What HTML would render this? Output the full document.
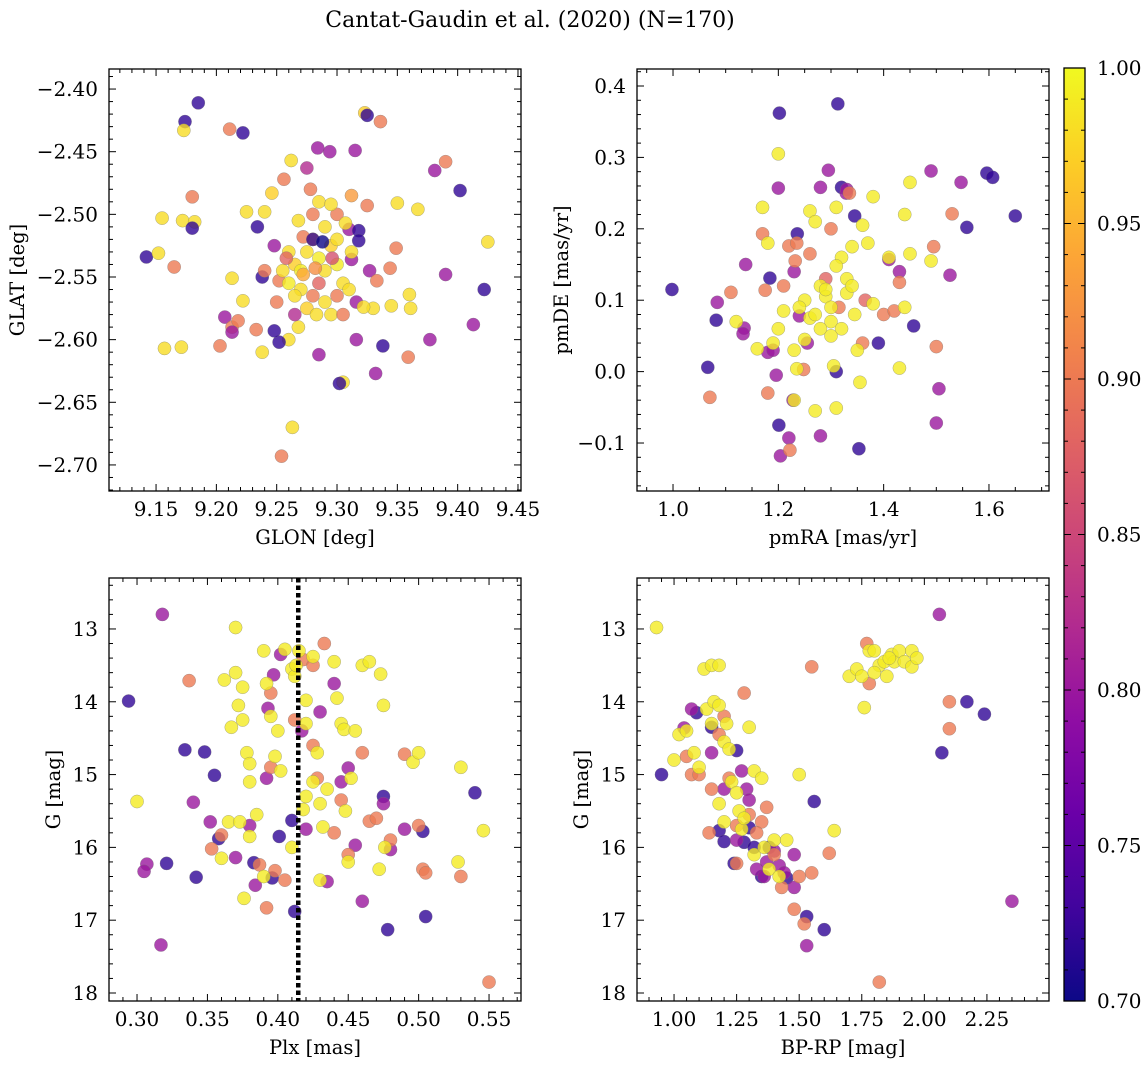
<!DOCTYPE html>
<html><head><meta charset="utf-8">
<style>
body{margin:0;background:#fff;}
svg{display:block;font-family:"DejaVu Serif","Liberation Serif",serif;}
</style></head>
<body>
<svg id="fig" width="1148" height="1068" viewBox="0 0 1148 1068">
<defs>
<linearGradient id="plasma" x1="0" y1="1" x2="0" y2="0">
<stop offset="0" stop-color="#0d0887"/><stop offset="0.1" stop-color="#41049d"/><stop offset="0.2" stop-color="#6a00a8"/><stop offset="0.3" stop-color="#8f0da4"/><stop offset="0.4" stop-color="#b12a90"/><stop offset="0.5" stop-color="#cc4778"/><stop offset="0.6" stop-color="#e16462"/><stop offset="0.7" stop-color="#f2844b"/><stop offset="0.8" stop-color="#fca636"/><stop offset="0.9" stop-color="#fcce25"/><stop offset="1" stop-color="#f0f921"/>
</linearGradient>
</defs>
<text x="530" y="27" font-size="22" text-anchor="middle">Cantat-Gaudin et al. (2020) (N=170)</text>
</svg>
<script>
// ---- data ----
const glonGlat = [[9.185,-2.411,0.72],[9.174,-2.426,0.72],[9.222,-2.435,0.72],[9.173,-2.433,0.98],[9.211,-2.432,0.9],[9.323,-2.419,0.97],[9.325,-2.421,0.72],[9.336,-2.426,0.9],[9.18,-2.486,0.9],[9.155,-2.503,0.98],[9.172,-2.505,0.98],[9.182,-2.506,0.98],[9.18,-2.511,0.72],[9.142,-2.534,0.72],[9.152,-2.531,0.98],[9.165,-2.542,0.9],[9.157,-2.607,0.98],[9.171,-2.606,0.98],[9.203,-2.605,0.9],[9.207,-2.582,0.8],[9.213,-2.59,0.9],[9.218,-2.585,0.9],[9.213,-2.594,0.8],[9.213,-2.551,0.98],[9.222,-2.569,0.98],[9.225,-2.498,0.98],[9.24,-2.498,0.98],[9.246,-2.483,0.97],[9.256,-2.472,0.9],[9.262,-2.457,0.98],[9.275,-2.463,0.82],[9.284,-2.447,0.8],[9.294,-2.45,0.8],[9.315,-2.449,0.8],[9.312,-2.485,0.93],[9.325,-2.493,0.9],[9.35,-2.491,0.98],[9.367,-2.496,0.98],[9.39,-2.458,0.9],[9.381,-2.465,0.8],[9.402,-2.481,0.72],[9.425,-2.522,0.98],[9.422,-2.56,0.72],[9.413,-2.588,0.8],[9.39,-2.548,0.8],[9.377,-2.6,0.8],[9.36,-2.564,0.98],[9.361,-2.575,0.98],[9.359,-2.614,0.9],[9.349,-2.527,0.9],[9.344,-2.543,0.9],[9.338,-2.605,0.72],[9.332,-2.627,0.8],[9.305,-2.634,0.98],[9.302,-2.635,0.72],[9.285,-2.612,0.8],[9.263,-2.67,0.98],[9.254,-2.693,0.9],[9.26,-2.6,0.98],[9.238,-2.61,0.98],[9.233,-2.592,0.9],[9.238,-2.55,0.72],[9.252,-2.602,0.72],[9.248,-2.593,0.72],[9.234,-2.51,0.72],[9.24,-2.545,0.9],[9.248,-2.525,0.8],[9.252,-2.553,0.9],[9.25,-2.57,0.9],[9.316,-2.6,0.8],[9.316,-2.57,0.8],[9.33,-2.575,0.98],[9.322,-2.574,0.98],[9.327,-2.545,0.8],[9.31,-2.512,0.8],[9.318,-2.513,0.72],[9.318,-2.521,0.72],[9.3,-2.5,0.9],[9.307,-2.507,0.98],[9.312,-2.536,0.8],[9.333,-2.553,0.9],[9.345,-2.573,0.98],[9.26,-2.53,0.98],[9.265,-2.54,0.97],[9.27,-2.545,0.99],[9.275,-2.53,0.98],[9.28,-2.52,0.96],[9.285,-2.535,0.99],[9.29,-2.545,0.98],[9.295,-2.525,0.97],[9.3,-2.54,0.99],[9.305,-2.555,0.98],[9.27,-2.56,0.98],[9.28,-2.565,0.9],[9.285,-2.555,0.88],[9.29,-2.57,0.98],[9.275,-2.575,0.97],[9.265,-2.565,0.98],[9.26,-2.555,0.99],[9.255,-2.545,0.98],[9.268,-2.59,0.98],[9.283,-2.58,0.98],[9.295,-2.58,0.98],[9.3,-2.565,0.9],[9.31,-2.56,0.98],[9.29,-2.51,0.98],[9.285,-2.49,0.98],[9.295,-2.492,0.98],[9.3,-2.52,0.98],[9.278,-2.48,0.9],[9.28,-2.5,0.9],[9.268,-2.505,0.98],[9.272,-2.518,0.9],[9.282,-2.543,0.92],[9.296,-2.535,0.86],[9.265,-2.58,0.82],[9.305,-2.58,0.9],[9.28,-2.52,0.72],[9.288,-2.522,0.7],[9.272,-2.548,0.94],[9.258,-2.535,0.88],[9.312,-2.53,0.98]];
const pmraPmde = [[1.202,0.362,0.72],[1.313,0.375,0.72],[0.998,0.115,0.72],[1.066,0.006,0.72],[1.082,0.072,0.72],[1.184,0.131,0.72],[1.201,-0.075,0.72],[1.236,0.193,0.72],[1.32,0.258,0.72],[1.345,0.218,0.72],[1.353,-0.108,0.72],[1.31,0.0,0.72],[1.39,0.04,0.72],[1.457,0.064,0.72],[1.558,0.202,0.72],[1.596,0.278,0.72],[1.607,0.272,0.72],[1.65,0.218,0.72],[1.2,0.257,0.8],[1.084,0.097,0.8],[1.138,0.15,0.8],[1.135,0.061,0.8],[1.133,0.053,0.8],[1.18,0.027,0.8],[1.19,0.03,0.8],[1.196,-0.005,0.8],[1.204,-0.118,0.8],[1.22,-0.093,0.8],[1.228,-0.04,0.8],[1.23,0.14,0.8],[1.28,0.258,0.8],[1.295,0.282,0.8],[1.28,-0.09,0.8],[1.329,0.25,0.8],[1.33,0.255,0.8],[1.41,0.157,0.8],[1.43,0.14,0.8],[1.49,0.281,0.8],[1.547,0.265,0.8],[1.526,0.135,0.8],[1.5,-0.072,0.8],[1.505,-0.024,0.8],[1.24,0.078,0.8],[1.255,0.04,0.8],[1.07,-0.036,0.9],[1.11,0.111,0.9],[1.17,0.193,0.9],[1.175,0.114,0.9],[1.18,-0.03,0.9],[1.21,0.12,0.9],[1.22,0.176,0.9],[1.235,0.18,0.9],[1.232,0.155,0.9],[1.222,-0.11,0.9],[1.26,0.165,0.9],[1.29,0.13,0.88],[1.3,0.2,0.9],[1.315,0.09,0.9],[1.335,0.25,0.9],[1.365,0.1,0.88],[1.4,0.08,0.9],[1.42,0.085,0.9],[1.43,0.125,0.9],[1.495,0.175,0.9],[1.5,0.035,0.9],[1.53,0.221,0.9],[1.248,0.003,0.9],[1.36,0.04,0.9],[1.2,0.305,0.99],[1.17,0.23,0.99],[1.18,0.18,0.99],[1.12,0.07,0.99],[1.16,0.032,0.99],[1.2,0.06,0.99],[1.19,0.04,0.99],[1.23,-0.04,0.99],[1.235,0.004,0.99],[1.21,0.085,0.99],[1.25,0.1,0.99],[1.26,0.225,0.99],[1.27,0.21,0.99],[1.27,-0.055,0.99],[1.28,0.12,0.99],[1.29,0.105,0.99],[1.3,0.09,0.99],[1.3,0.07,0.99],[1.305,0.008,0.99],[1.31,-0.051,0.99],[1.31,0.23,0.99],[1.32,0.16,0.99],[1.33,0.13,0.99],[1.33,0.11,0.99],[1.34,0.175,0.99],[1.345,0.08,0.99],[1.35,0.03,0.99],[1.355,-0.015,0.99],[1.36,0.205,0.99],[1.37,0.18,0.99],[1.38,0.245,0.99],[1.38,0.095,0.99],[1.41,0.16,0.99],[1.43,0.005,0.99],[1.44,0.22,0.99],[1.45,0.265,0.99],[1.45,0.165,0.99],[1.44,0.09,0.99],[1.49,0.155,0.99],[1.24,0.09,0.99],[1.26,0.075,0.99],[1.27,0.08,0.99],[1.28,0.06,0.99],[1.29,0.115,0.99],[1.25,0.045,0.99],[1.23,0.03,0.99],[1.32,0.06,0.99],[1.3,0.05,0.99],[1.34,0.12,0.99],[1.31,0.148,0.99]];
const plxG = [[0.294,13.99,0.72],[0.334,14.66,0.72],[0.348,14.69,0.72],[0.355,15.01,0.72],[0.358,15.88,0.72],[0.342,16.41,0.72],[0.321,16.22,0.72],[0.383,16.21,0.72],[0.401,15.85,0.72],[0.396,16.42,0.72],[0.412,16.88,0.72],[0.41,15.63,0.72],[0.478,17.13,0.72],[0.54,15.25,0.72],[0.505,16.95,0.72],[0.503,15.78,0.72],[0.475,15.3,0.72],[0.318,12.8,0.8],[0.307,16.23,0.8],[0.305,16.33,0.8],[0.317,17.34,0.8],[0.34,15.38,0.8],[0.352,15.65,0.8],[0.37,16.14,0.8],[0.384,16.52,0.8],[0.38,15.7,0.8],[0.397,13.63,0.8],[0.393,14.09,0.8],[0.392,15.05,0.8],[0.42,15.75,0.8],[0.43,14.14,0.8],[0.435,16.47,0.8],[0.44,13.75,0.8],[0.45,14.91,0.8],[0.455,15.97,0.8],[0.46,16.74,0.8],[0.475,15.4,0.8],[0.48,16.03,0.8],[0.49,15.75,0.8],[0.445,15.1,0.8],[0.402,13.35,0.8],[0.417,14.4,0.8],[0.337,13.71,0.9],[0.353,16.02,0.9],[0.36,15.83,0.9],[0.387,16.24,0.9],[0.392,16.83,0.9],[0.395,13.88,0.9],[0.398,16.32,0.9],[0.405,16.45,0.9],[0.418,13.42,0.9],[0.425,13.5,0.9],[0.428,15.05,0.9],[0.433,13.2,0.9],[0.44,15.8,0.9],[0.445,15.35,0.9],[0.46,14.7,0.9],[0.465,15.64,0.9],[0.48,15.9,0.9],[0.49,14.72,0.9],[0.5,15.7,0.9],[0.503,16.3,0.9],[0.505,16.35,0.9],[0.53,16.4,0.9],[0.55,17.85,0.9],[0.412,14.25,0.9],[0.425,14.6,0.9],[0.395,14.9,0.9],[0.45,16.1,0.9],[0.47,15.6,0.9],[0.3,15.37,0.99],[0.37,12.98,0.99],[0.362,13.7,0.99],[0.367,14.35,0.99],[0.37,13.6,0.99],[0.375,13.8,0.99],[0.372,14.05,0.99],[0.375,14.25,0.99],[0.378,14.7,0.99],[0.38,14.85,0.99],[0.38,15.1,0.99],[0.385,15.55,0.99],[0.38,15.85,0.99],[0.365,15.65,0.99],[0.373,15.65,0.99],[0.39,13.3,0.99],[0.392,13.75,0.99],[0.395,14.2,0.99],[0.4,14.4,0.99],[0.398,14.75,0.99],[0.402,14.95,0.99],[0.405,13.28,0.99],[0.41,13.55,0.99],[0.412,13.65,0.99],[0.415,13.3,0.99],[0.413,13.5,0.99],[0.42,13.98,0.99],[0.42,14.3,0.99],[0.42,15.3,0.99],[0.425,15.1,0.99],[0.425,13.38,0.99],[0.428,14.7,0.99],[0.43,15.4,0.99],[0.432,15.72,0.99],[0.435,15.2,0.99],[0.44,13.45,0.99],[0.442,13.95,0.99],[0.445,14.3,0.99],[0.447,14.38,0.99],[0.448,15.5,0.99],[0.45,16.2,0.99],[0.452,15.05,0.99],[0.455,14.4,0.99],[0.46,13.5,0.99],[0.465,13.45,0.99],[0.473,13.62,0.99],[0.475,14.05,0.99],[0.476,16.0,0.99],[0.496,14.83,0.99],[0.5,14.7,0.99],[0.53,14.9,0.99],[0.528,16.2,0.99],[0.546,15.77,0.99],[0.418,15.48,0.99],[0.41,16.0,0.99],[0.472,16.3,0.99],[0.43,16.45,0.99],[0.39,16.4,0.99],[0.36,16.15,0.99],[0.376,16.7,0.99]];
const bprpG = [[0.95,15.0,0.72],[1.09,14.15,0.72],[1.18,15.77,0.72],[1.2,15.92,0.72],[1.25,14.67,0.72],[1.24,16.22,0.72],[1.28,15.93,0.72],[1.3,15.73,0.72],[1.32,16.0,0.72],[1.35,16.4,0.72],[1.38,16.0,0.72],[1.45,16.42,0.72],[1.53,16.95,0.72],[1.56,15.37,0.72],[1.6,17.13,0.72],[2.07,14.7,0.72],[2.17,14.0,0.72],[2.24,14.17,0.72],[1.15,14.35,0.72],[1.04,14.36,0.8],[1.07,14.1,0.8],[1.15,14.7,0.8],[1.2,15.2,0.8],[1.27,14.95,0.8],[1.29,15.2,0.8],[1.3,15.35,0.8],[1.33,16.3,0.8],[1.36,16.4,0.8],[1.37,16.2,0.8],[1.4,16.05,0.8],[1.42,16.25,0.8],[1.44,16.35,0.8],[1.48,16.55,0.8],[1.53,17.35,0.8],[1.48,16.1,0.8],[2.06,12.8,0.8],[2.35,16.74,0.8],[1.25,15.9,0.8],[1.05,14.75,0.9],[1.07,15.0,0.9],[1.1,15.0,0.9],[1.15,15.2,0.9],[1.14,15.8,0.9],[1.18,14.45,0.9],[1.2,14.2,0.9],[1.22,15.05,0.9],[1.25,16.22,0.9],[1.25,15.7,0.9],[1.28,13.88,0.9],[1.3,15.55,0.9],[1.35,15.65,0.9],[1.4,16.1,0.9],[1.43,16.55,0.9],[1.48,16.85,0.9],[1.5,16.4,0.9],[1.52,17.05,0.9],[1.55,16.35,0.9],[1.55,13.52,0.9],[1.62,16.08,0.9],[1.77,13.2,0.9],[1.78,13.75,0.9],[1.82,17.85,0.9],[2.1,14.0,0.9],[2.1,14.37,0.9],[1.33,15.8,0.9],[1.37,15.45,0.9],[0.93,12.98,0.99],[1.0,14.8,0.99],[1.02,14.45,0.99],[1.05,14.4,0.99],[1.08,14.7,0.99],[1.1,14.9,0.99],[1.12,13.55,0.99],[1.13,14.1,0.99],[1.15,13.5,0.99],[1.15,14.3,0.99],[1.16,14.0,0.99],[1.18,13.5,0.99],[1.18,14.05,0.99],[1.2,14.55,0.99],[1.21,14.3,0.99],[1.22,14.65,0.99],[1.18,15.4,0.99],[1.2,15.65,0.99],[1.23,15.1,0.99],[1.25,15.25,0.99],[1.26,15.5,0.99],[1.27,15.75,0.99],[1.3,14.35,0.99],[1.32,14.95,0.99],[1.35,15.05,0.99],[1.38,16.3,0.99],[1.42,16.4,0.99],[1.5,15.0,0.99],[1.64,15.77,0.99],[1.7,13.65,0.99],[1.73,13.55,0.99],[1.75,13.65,0.99],[1.76,14.08,0.99],[1.78,13.3,0.99],[1.8,13.3,0.99],[1.82,13.5,0.99],[1.84,13.45,0.99],[1.85,13.65,0.99],[1.87,13.35,0.99],[1.88,13.45,0.99],[1.9,13.3,0.99],[1.92,13.45,0.99],[1.95,13.3,0.99],[1.95,13.52,0.99],[1.97,13.4,0.99],[1.8,13.6,0.99],[1.86,13.4,0.99],[1.4,15.9,0.99],[1.32,16.1,0.99],[1.28,15.6,0.99],[1.45,15.9,0.99],[1.36,16.0,0.99]];
const plxMean = 0.4145;
const cbTicks = [0.70,0.75,0.80,0.85,0.90,0.95,1.00];

const NS="http://www.w3.org/2000/svg";
const svg=document.getElementById('fig');
function mk(tag,attrs,parent){const e=document.createElementNS(NS,tag);for(const k in attrs)e.setAttribute(k,attrs[k]);(parent||svg).appendChild(e);return e;}
const stops=[[0,[13,8,135]],[0.1,[65,4,157]],[0.2,[106,0,168]],[0.3,[143,13,164]],[0.4,[177,42,144]],[0.5,[204,71,120]],[0.6,[225,100,98]],[0.7,[242,132,75]],[0.8,[252,166,54]],[0.9,[252,206,37]],[1,[240,249,33]]];
function plasma(p){let t=Math.max(0,Math.min(1,(p-0.7)/0.3));for(let i=0;i<stops.length-1;i++){if(t<=stops[i+1][0]){const f=(t-stops[i][0])/(stops[i+1][0]-stops[i][0]);const a=stops[i][1],b=stops[i+1][1];return `rgb(${a.map((v,j)=>Math.round(v+(b[j]-v)*f)).join(',')})`;}}return 'rgb(240,249,33)';}

const FS=20, LFS=19.5;
function panel(cfg){
  const {L,T,R,B,x0,x1,y0,y1,xt,xm,yt,ym,xd,yd,xl,yl,name,data}=cfg;
  const g=mk('g',{});
  
  
  const sx=v=>L+(v-x0)/(x1-x0)*(R-L);
  const sy=v=>T+(v-y1)/(y0-y1)*(B-T);
  const clip='c'+name;
  const cp=mk('clipPath',{id:clip},g);mk('rect',{x:L,y:T,width:R-L,height:B-T},cp);
  const pts=mk('g',{'clip-path':`url(#${clip})`},g);
  data.forEach(d=>{
    const c=mk('circle',{cx:sx(d[0]),cy:sy(d[1]),r:6.6,fill:plasma(d[2]),'fill-opacity':0.8,stroke:'#777','stroke-width':0.5,'stroke-opacity':0.6},pts);
    
    
  });
  if(cfg.vline!==undefined){const ln=mk('line',{x1:sx(cfg.vline),x2:sx(cfg.vline),y1:T,y2:B,stroke:'#000','stroke-width':4.5,'stroke-dasharray':'4.5 3'},pts);
    
    }
  mk('rect',{x:L,y:T,width:R-L,height:B-T,fill:'none',stroke:'#000','stroke-width':1.3},g);
  const lo=Math.min(x0,x1),hi=Math.max(x0,x1);
  for(let v=Math.ceil(lo/xm-1e-6)*xm;v<=hi+1e-9;v+=xm){const X=sx(v);const maj=Math.abs(v/xt-Math.round(v/xt))<1e-4;const l=maj?7:4;
    mk('line',{x1:X,x2:X,y1:B,y2:B-l,stroke:'#000','stroke-width':1},g);mk('line',{x1:X,x2:X,y1:T,y2:T+l,stroke:'#000','stroke-width':1},g);
    if(maj){const t=mk('text',{x:X,y:B+25,'font-size':FS,'text-anchor':'middle'},g);t.textContent=v.toFixed(xd);
      }}
  const ylo=Math.min(y0,y1),yhi=Math.max(y0,y1);
  for(let v=Math.ceil(ylo/ym-1e-6)*ym;v<=yhi+1e-9;v+=ym){const Y=sy(v);const maj=Math.abs(v/yt-Math.round(v/yt))<1e-4;const l=maj?7:4;
    mk('line',{x1:L,x2:L+l,y1:Y,y2:Y,stroke:'#000','stroke-width':1},g);mk('line',{x1:R,x2:R-l,y1:Y,y2:Y,stroke:'#000','stroke-width':1},g);
    if(maj){const t=mk('text',{x:L-11,y:Y+7,'font-size':FS,'text-anchor':'end'},g);t.textContent=(Math.abs(v)<1e-9?0:v).toFixed(yd).replace('-','\u2212');
      }}
  const xlab=mk('text',{x:(L+R)/2,y:B+53,'font-size':LFS,'text-anchor':'middle'},g);xlab.textContent=xl;
  
  const yx=cfg.ylx, yy=(T+B)/2;
  const ylab=mk('text',{x:yx,y:yy,'font-size':LFS,'text-anchor':'middle',transform:`rotate(-90 ${yx} ${yy})`},g);ylab.textContent=yl;
  
}
panel({name:'glon-glat-panel',L:109,T:69,R:521,B:491,x0:9.111,x1:9.4525,y0:-2.7208,y1:-2.3840,xt:0.05,xm:0.01,yt:0.05,ym:0.01,xd:2,yd:2,xl:'GLON [deg]',yl:'GLAT [deg]',ylx:24,data:glonGlat});
panel({name:'pm-panel',L:637,T:69,R:1049,B:491,x0:0.9316,x1:1.714,y0:-0.1672,y1:0.4238,xt:0.2,xm:0.05,yt:0.1,ym:0.02,xd:1,yd:1,xl:'pmRA [mas/yr]',yl:'pmDE [mas/yr]',ylx:568,data:pmraPmde});
panel({name:'plx-g-panel',L:109,T:578,R:521,B:1001,x0:0.2801,x1:0.5727,y0:18.11,y1:12.3,xt:0.05,xm:0.01,yt:1,ym:0.2,xd:2,yd:0,xl:'Plx [mas]',yl:'G [mag]',ylx:60,data:plxG,vline:plxMean});
panel({name:'cmd-panel',L:637,T:578,R:1049,B:1001,x0:0.852,x1:2.498,y0:18.11,y1:12.3,xt:0.25,xm:0.05,yt:1,ym:0.2,xd:2,yd:0,xl:'BP-RP [mag]',yl:'G [mag]',ylx:588,data:bprpG});

// colorbar
const cb=mk('g',{});


const cT=68,cB=1001,cL=1064,cR=1085;
mk('rect',{x:cL,y:cT,width:cR-cL,height:cB-cT,fill:'url(#plasma)',stroke:'#000','stroke-width':1.3},cb);
const cy=v=>cB-(v-0.7)/0.3*(cB-cT);
for(let v=0.70;v<=1.0001;v+=0.01){const Y=cy(v);const maj=Math.abs(v*20-Math.round(v*20))<1e-4;
  mk('line',{x1:cR,x2:cR-(maj?7:4),y1:Y,y2:Y,stroke:'#000','stroke-width':1},cb);
  mk('line',{x1:cL,x2:cL+(maj?7:4),y1:Y,y2:Y,stroke:'#000','stroke-width':1},cb);}
cbTicks.forEach(v=>{const t=mk('text',{x:cR+12,y:cy(v)+7,'font-size':FS},cb);t.textContent=v.toFixed(2);
  });
</script>
</body></html>
